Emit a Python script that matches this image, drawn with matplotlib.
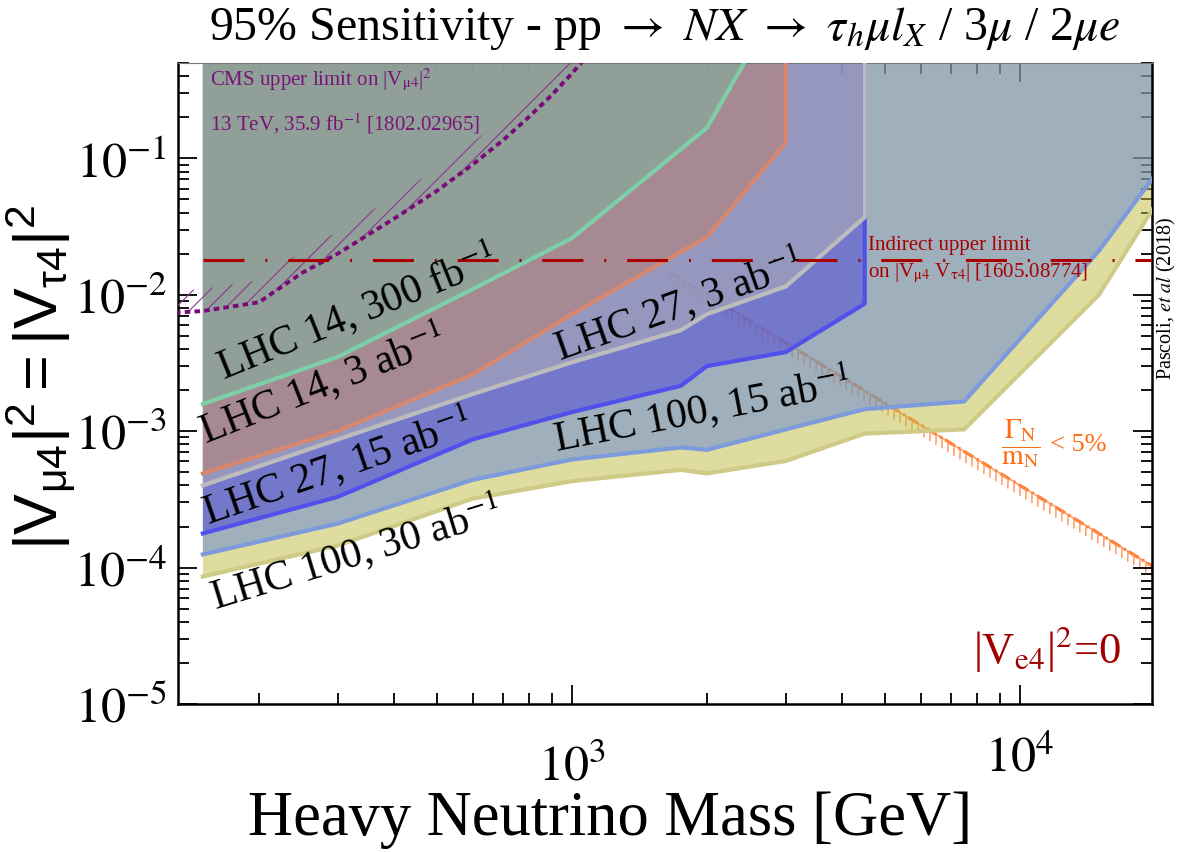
import numpy as np
import matplotlib.pyplot as plt
from matplotlib import patheffects

plt.rcParams['font.family'] = 'Liberation Serif'
plt.rcParams['mathtext.fontset'] = 'stix'
# sans set used only by the y label (math_fontfamily='custom')
plt.rcParams['mathtext.rm'] = 'Liberation Sans'
plt.rcParams['mathtext.it'] = 'Liberation Sans:italic'
plt.rcParams['mathtext.sf'] = 'Liberation Sans'
plt.rcParams['lines.scale_dashes'] = False
plt.rcParams['hatch.linewidth'] = 0.8

# --- sensitivity curves (heavy neutrino mass [GeV], |V|^2) ---
mass_14_300 = [150, 300, 600, 1000, 2000, 2500]
v2_14_300 = [1.58e-3, 3.5e-3, 1.1e-2, 2.6e-2, 0.167, 0.6]

mass_14_3000 = [150, 300, 600, 1000, 2000, 3000]
v2_14_3000 = [4.9e-4, 1.0e-3, 2.6e-3, 7.2e-3, 2.65e-2, 0.13]

mass_27 = [150, 300, 600, 1000, 1750, 2000, 3000, 4500]
v2_27_3000 = [4.0e-4, 8.7e-4, 1.87e-3, 3.2e-3, 5.5e-3, 7.2e-3, 1.15e-2, 3.7e-2]
v2_27_15000 = [1.78e-4, 3.3e-4, 8.7e-4, 1.38e-3, 2.15e-3, 3.0e-3, 3.8e-3, 8.6e-3]

mass_100 = [150, 300, 600, 1000, 1750, 2000, 3000, 4500, 7500, 15000, 20000]
v2_100_15000 = [1.25e-4, 2.1e-4, 4.4e-4, 6.2e-4, 7.6e-4, 7.3e-4, 1.03e-3, 1.45e-3, 1.65e-3, 2.1e-2, 7.5e-2]
v2_100_30000 = [8.6e-5, 1.45e-4, 3.2e-4, 4.3e-4, 5.2e-4, 4.9e-4, 6.05e-4, 9.6e-4, 1.03e-3, 1.0e-2, 4.5e-2]

# CMS 13 TeV upper limit
cms_mass = [130, 150, 200, 250, 300, 400, 500, 600, 700, 800, 900, 1000, 1100]
cms_v2 = [7.4e-3, 7.6e-3, 8.8e-3, 1.45e-2, 2.0e-2, 3.6e-2, 5.8e-2, 9.0e-2, 0.135, 0.2, 0.29, 0.42, 0.6]

# indirect limit on |V_mu4 V_tau4|
indirect_mass = [150, 20000]
indirect_v2 = [0.018, 0.018]

# width condition Gamma_N / m_N < 5%
gamma_mass = [1650, 20000]
gamma_v2 = [1.47e-2, 1.0e-4]

xtick_vals = [1e3, 1e4]
xtick_labels = [r"$10^{3}$", r"$10^{4}$"]
ytick_vals = [1e-5, 1e-4, 1e-3, 1e-2, 1e-1]
ytick_labels = [r"$10^{-5}$", r"$10^{-4}$", r"$10^{-3}$", r"$10^{-2}$", r"$10^{-1}$"]

TOP = 10.0

fig = plt.figure(figsize=(11.82, 8.53), dpi=100)
ax = fig.add_axes([0.1506, 0.1735, 0.8240, 0.7515])
ax.set_xscale('log')
ax.set_yscale('log')
ax.set_xlim(132, 19700)
ax.set_ylim(1e-5, 0.5)


def band(m, v, face, edge):
    ax.fill(m + [m[-1], m[0]], v + [TOP, TOP], color=face, alpha=0.5, lw=0, zorder=2)
    ax.plot(m + [m[-1]], v + [TOP], color=edge, lw=3, zorder=3)


# Gamma/m line sits under the shaded regions
ax.plot(gamma_mass, gamma_v2, color='#ff6a10', lw=2.2, dashes=(8, 3, 1.5, 3), zorder=1.5)
ax.plot(gamma_mass, gamma_v2, color='#ff9050', lw=1, zorder=1.5,
        path_effects=[patheffects.withTickedStroke(spacing=5, angle=-60, length=1.4)])

band(mass_100, v2_100_30000, '#c1bb41', '#cfca86')
band(mass_100, v2_100_15000, '#6083da', '#7d9bdc')
band(mass_27, v2_27_15000, '#4a42db', '#5050eb')
band(mass_27, v2_27_3000, '#b7b7b4', '#bcbcbc')
band(mass_14_3000, v2_14_3000, '#ba7c6a', '#d6876f')
band(mass_14_300, v2_14_300, '#7ab69b', '#7ccfa6')

# CMS limit with hatching on excluded side
ax.fill_between(cms_mass, cms_v2, np.array(cms_v2) * 1.45, facecolor='none',
                edgecolor='#8a3a8a', hatch='//', lw=0, zorder=3.5)
ax.plot(cms_mass, cms_v2, color='#7a0a7a', lw=2.8, dashes=(4, 3), zorder=4)

ax.plot(indirect_mass, indirect_v2, color='#a80000', lw=2.2, dashes=(29.5, 15, 1.5, 15), zorder=4)

# labels on the regions
lab = dict(ha='center', va='center', rotation_mode='anchor', fontsize=30, zorder=5)
ax.text(330, 7.6e-3, r"LHC 14, 300 fb$^{-1}$", rotation=22, **lab)
ax.text(276, 2.25e-3, r"LHC 14, 3 ab$^{-1}$", rotation=21.5, **lab)
ax.text(298, 5.6e-4, r"LHC 27, 15 ab$^{-1}$", rotation=19, **lab)
ax.text(330, 1.31e-4, r"LHC 100, 30 ab$^{-1}$", rotation=17, **lab)
ax.text(1724, 8.6e-3, r"LHC 27, 3 ab$^{-1}$", rotation=19.5, **lab)
ax.text(1950, 1.45e-3, r"LHC 100, 15 ab$^{-1}$", rotation=11, **lab)

ax.text(0.033, 0.967, r"CMS upper limit on |V$_{\mathrm{\mu 4}}$|$^{2}$", transform=ax.transAxes,
        color='#781478', fontsize=15, va='baseline', zorder=5)
ax.text(0.033, 0.897, r"13 TeV, 35.9 fb$^{-1}$ [1802.02965]", transform=ax.transAxes,
        color='#781478', fontsize=15, va='baseline', zorder=5)

ax.text(4580, 0.0218, "Indirect upper limit", color='#a80000', fontsize=15, va='baseline', zorder=5)
ax.text(4580, 0.01355, r"on |V$_{\mathrm{\mu 4}}$ V$_{\mathrm{\tau 4}}$| [1605.08774]", color='#a80000',
        fontsize=15, va='baseline', zorder=5)

ax.text(10046, 8.3e-4, r"$\dfrac{\Gamma_\mathrm{N}}{\mathrm{m}_\mathrm{N}}$", color='#ff6a10',
        fontsize=20, ha='center', va='center', zorder=5)
ax.text(11670, 8.0e-4, "< 5%", color='#ff6a10', fontsize=19, ha='left', va='center', zorder=5)

ax.text(11480, 2.58e-5, r"|V$_\mathrm{e4}$|$^{2}$=0", color='#a00000', fontsize=32,
        ha='center', va='center', zorder=5)

ax.text(1.0144, 0.507, r"Pascoli, $et\ al$ (2018)", transform=ax.transAxes, rotation=90,
        fontsize=14.5, ha='center', va='bottom')

# axes styling
ax.set_yticks(ytick_vals, labels=ytick_labels)
ax.set_xticks(xtick_vals, labels=['', ''])
ax.xaxis.set_minor_formatter(plt.NullFormatter())
ax.yaxis.set_minor_formatter(plt.NullFormatter())
ax.tick_params(which='both', direction='in', top=True, right=True, width=1.3)
ax.tick_params(which='major', length=14, labelsize=36, pad=8)
ax.tick_params(which='minor', length=8)
for s in ['left', 'bottom', 'right']:
    ax.spines[s].set_linewidth(1.8)
ax.spines['top'].set_color('#777777')

for val, text, off in zip(xtick_vals, xtick_labels, [-0.098, -0.084]):
    ax.text(val, off, text, transform=ax.get_xaxis_transform(), fontsize=36,
            ha='center', va='center')

ax.set_xlabel("Heavy Neutrino Mass [GeV]", fontsize=45, va='center')
ax.xaxis.set_label_coords(0.4435, -0.18)
ax.set_ylabel(r"$\mathrm{|V_{\mu 4}|^{2} = |V_{\tau 4}|^{2}}$", fontsize=44, va='center',
              math_fontfamily='custom')
ax.yaxis.set_label_coords(-0.142, 0.51)

ax.set_title(r"95% Sensitivity - pp $\rightarrow$ $NX$ $\rightarrow$ $\tau_h\mu l_X$ / 3$\mu$ / 2$\mu e$",
             fontsize=34.5, pad=17, fontfamily='Liberation Serif')

fig.savefig('out.png', dpi=100)
